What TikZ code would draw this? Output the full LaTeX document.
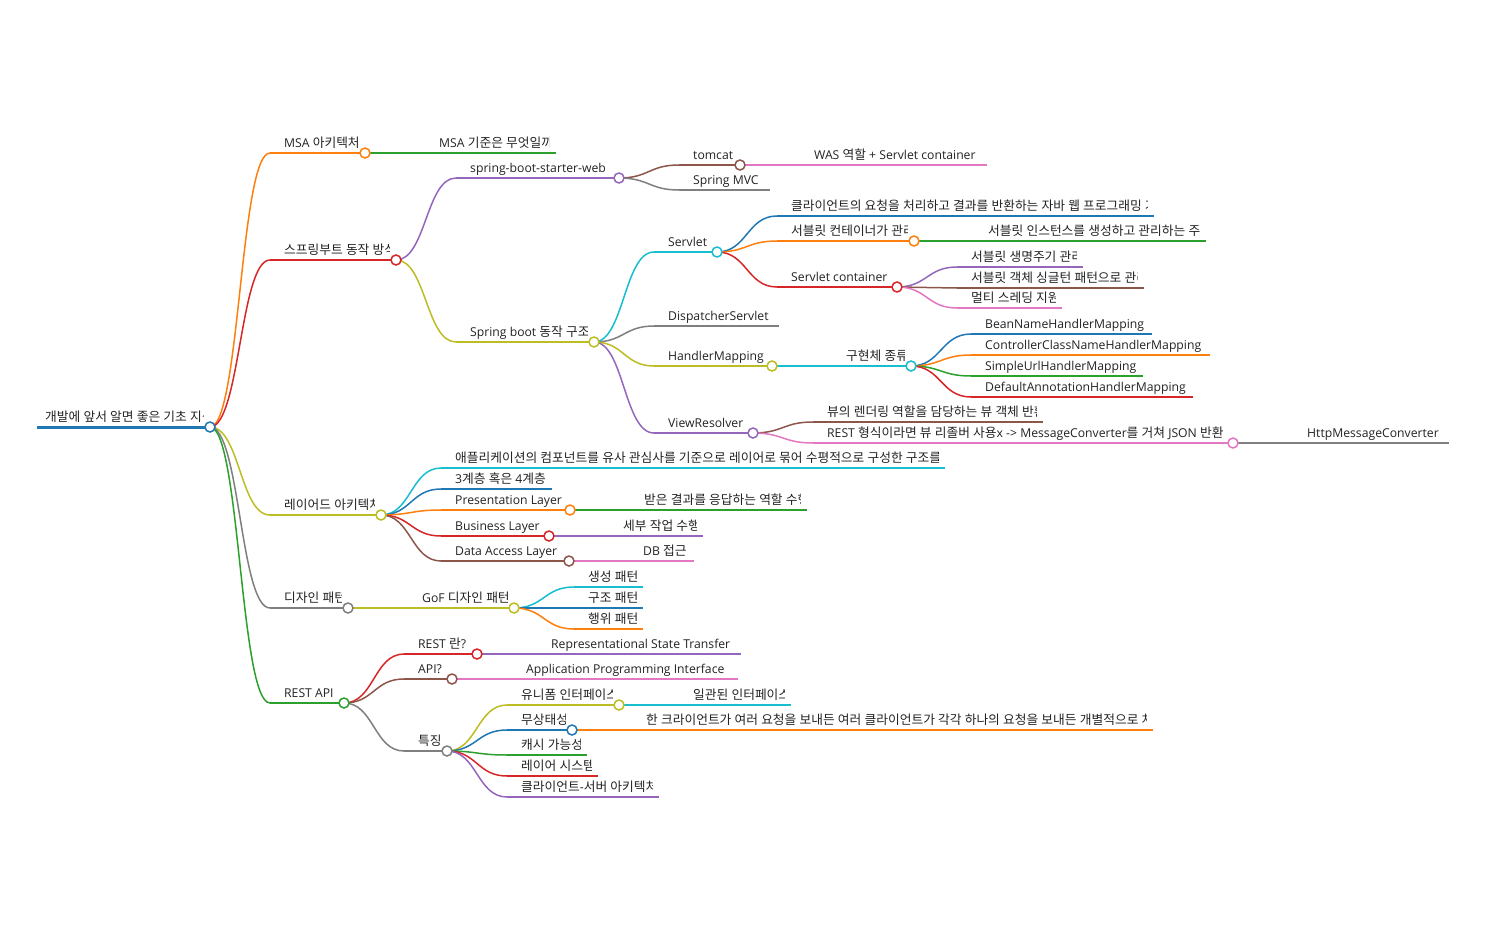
\documentclass[tikz,border=0pt]{standalone}
\usepackage{fontspec}
\setmainfont{Open Sans}
\newfontfamily\krfont{Noto Sans CJK KR}[Scale=1.045]
\newfontfamily\latfont{Open Sans}
\usetikzlibrary{calc}
% automatic switch to a Korean font for Hangul syllables
\XeTeXinterchartokenstate=1
\chardef\hgclass=10
\newcount\hgc
\hgc="AC00
\loop\XeTeXcharclass\hgc=\hgclass\advance\hgc by 1 \ifnum\hgc<"D7A4 \repeat
\XeTeXinterchartoks 0 \hgclass = {\krfont}
\XeTeXinterchartoks 4095 \hgclass = {\krfont}
\XeTeXinterchartoks \hgclass 0 = {\latfont}
\XeTeXinterchartoks \hgclass 4095 = {\latfont}
\definecolor{cBlue}{HTML}{1F77B4}
\definecolor{cOrange}{HTML}{FF7F0E}
\definecolor{cGreen}{HTML}{2CA02C}
\definecolor{cRed}{HTML}{D62728}
\definecolor{cPurple}{HTML}{9467BD}
\definecolor{cBrown}{HTML}{8C564B}
\definecolor{cPink}{HTML}{E377C2}
\definecolor{cGray}{HTML}{7F7F7F}
\definecolor{cOlive}{HTML}{BCBD22}
\definecolor{cCyan}{HTML}{17BECF}
\definecolor{txt}{HTML}{222222}
\tikzset{
  link/.style={line width=1.5pt},
  lbl/.style={anchor=base west, inner sep=0pt, text=txt, font=\fontsize{12.2}{14}\selectfont},
  mmdotstyle/.style={circle, fill=white, line width=1.5pt, minimum size=10pt, inner sep=0pt}
}
% #1 id, #2 parent id, #3 colour, #4 x0, #5 x1, #6 y, #7 text
\newcommand\mmnode[7]{%
  \coordinate (#1S) at (#4,#6);
  \coordinate (#1E) at (#5,#6);
  \draw[link,#3] (#2E) .. controls ($(#2E)+(30,0)$) and ($(#1S)+(-30,0)$) .. (#1S);
  \draw[link,#3] (#1S) -- (#1E);
  \begin{scope}
    \clip (#4,#6-30) rectangle (#5-7,#6+1);
    \node[lbl] (#1T) at (#4+14,#6-5.5) {#7};
  \end{scope}
}
\newcommand\mmdot[2]{\node[mmdotstyle, draw=#2] (#1) at (#1E) {};}
\begin{document}
\begin{tikzpicture}[x=1pt,y=-1pt]
\useasboundingbox (0,0) rectangle (1486,934);
% root
\coordinate (rS) at (37,427);
\coordinate (rE) at (210,427);
\draw[line width=3pt,cBlue] (rS) -- (rE);
\begin{scope}
  \clip (37,397) rectangle (203,428);
  \node[lbl] (rT) at (45,421.5) {개발에 앞서 알면 좋은 기초 지식};
\end{scope}
% MSA
\mmnode{a}{r}{cOrange}{270}{365}{153}{MSA 아키텍처}
\mmnode{a1}{a}{cGreen}{425}{556}{153}{MSA 기준은 무엇일까}
% spring boot
\mmnode{b}{r}{cRed}{270}{396}{260}{스프링부트 동작 방식}
\mmnode{b1}{b}{cPurple}{456}{619}{178}{spring-boot-starter-web}
\mmnode{b11}{b1}{cBrown}{679}{740}{165}{tomcat}
\mmnode{b111}{b11}{cPink}{800}{987}{165}{WAS 역할 + Servlet container}
\mmnode{b12}{b1}{cGray}{679}{770}{190}{Spring MVC}
\mmnode{b2}{b}{cOlive}{456}{594}{342}{Spring boot 동작 구조}
\mmnode{b21}{b2}{cCyan}{654}{717}{252}{Servlet}
\mmnode{b211}{b21}{cBlue}{777}{1154}{216}{클라이언트의 요청을 처리하고 결과를 반환하는 자바 웹 프로그래밍 기술}
\mmnode{b212}{b21}{cOrange}{777}{914}{241}{서블릿 컨테이너가 관리}
\mmnode{b2121}{b212}{cGreen}{974}{1206}{241}{서블릿 인스턴스를 생성하고 관리하는 주체}
\mmnode{b213}{b21}{cRed}{777}{897}{287}{Servlet container}
\mmnode{b2131}{b213}{cPurple}{957}{1083}{267}{서블릿 생명주기 관리}
\mmnode{b2132}{b213}{cBrown}{957}{1144}{288}{서블릿 객체 싱글턴 패턴으로 관리}
\mmnode{b2133}{b213}{cPink}{957}{1062}{308}{멀티 스레딩 지원}
\mmnode{b22}{b2}{cGray}{654}{779}{326}{DispatcherServlet}
\mmnode{b23}{b2}{cOlive}{654}{772}{366}{HandlerMapping}
\mmnode{b231}{b23}{cCyan}{832}{911}{366}{구현체 종류}
\mmnode{b2311}{b231}{cBlue}{971}{1152}{334}{BeanNameHandlerMapping}
\mmnode{b2312}{b231}{cOrange}{971}{1210}{355}{ControllerClassNameHandlerMapping}
\mmnode{b2313}{b231}{cGreen}{971}{1143}{376}{SimpleUrlHandlerMapping}
\mmnode{b2314}{b231}{cRed}{971}{1193}{397}{DefaultAnnotationHandlerMapping}
\mmnode{b24}{b2}{cPurple}{654}{753}{433}{ViewResolver}
\mmnode{b241}{b24}{cBrown}{813}{1043}{422}{뷰의 렌더링 역할을 담당하는 뷰 객체 반환}
\mmnode{b242}{b24}{cPink}{813}{1233}{443}{REST 형식이라면 뷰 리졸버 사용x -> MessageConverter를 거쳐 JSON 반환}
\mmnode{b2421}{b242}{cGray}{1293}{1449}{443}{HttpMessageConverter}
% layered
\mmnode{c}{r}{cOlive}{270}{381}{515}{레이어드 아키텍처}
\mmnode{c1}{c}{cCyan}{441}{945}{468}{애플리케이션의 컴포넌트를 유사 관심사를 기준으로 레이어로 묶어 수평적으로 구성한 구조를 의미}
\mmnode{c2}{c}{cBlue}{441}{552}{489}{3계층 혹은 4계층}
\mmnode{c3}{c}{cOrange}{441}{570}{510}{Presentation Layer}
\mmnode{c31}{c3}{cGreen}{630}{807}{510}{받은 결과를 응답하는 역할 수행}
\mmnode{c4}{c}{cRed}{441}{549}{536}{Business Layer}
\mmnode{c41}{c4}{cPurple}{609}{703}{536}{세부 작업 수행}
\mmnode{c5}{c}{cBrown}{441}{569}{561}{Data Access Layer}
\mmnode{c51}{c5}{cPink}{629}{694}{561}{DB 접근}
% design patterns
\mmnode{d}{r}{cGray}{270}{348}{608}{디자인 패턴}
\mmnode{d1}{d}{cOlive}{408}{514}{608}{GoF 디자인 패턴}
\mmnode{d11}{d1}{cCyan}{574}{643}{587}{생성 패턴}
\mmnode{d12}{d1}{cBlue}{574}{643}{608}{구조 패턴}
\mmnode{d13}{d1}{cOrange}{574}{643}{629}{행위 패턴}
% REST API
\mmnode{e}{r}{cGreen}{270}{344}{703}{REST API}
\mmnode{e1}{e}{cRed}{404}{477}{654}{REST 란?}
\mmnode{e11}{e1}{cPurple}{537}{741}{654}{Representational State Transfer}
\mmnode{e2}{e}{cBrown}{404}{452}{679}{API?}
\mmnode{e21}{e2}{cPink}{512}{738}{679}{Application Programming Interface}
\mmnode{e3}{e}{cGray}{404}{447}{751}{특징}
\mmnode{e31}{e3}{cOlive}{507}{619}{705}{유니폼 인터페이스}
\mmnode{e311}{e31}{cCyan}{679}{791}{705}{일관된 인터페이스}
\mmnode{e32}{e3}{cBlue}{507}{572}{730}{무상태성}
\mmnode{e321}{e32}{cOrange}{632}{1153}{730}{한 크라이언트가 여러 요청을 보내든 여러 클라이언트가 각각 하나의 요청을 보내든 개별적으로 처리}
\mmnode{e33}{e3}{cGreen}{507}{587}{755}{캐시 가능성}
\mmnode{e34}{e3}{cRed}{507}{598}{776}{레이어 시스템}
\mmnode{e35}{e3}{cPurple}{507}{659}{797}{클라이언트-서버 아키텍처}
% circles on top
\mmdot{r}{cBlue}
\mmdot{a}{cOrange}
\mmdot{b}{cRed}
\mmdot{b1}{cPurple}
\mmdot{b11}{cBrown}
\mmdot{b2}{cOlive}
\mmdot{b21}{cCyan}
\mmdot{b212}{cOrange}
\mmdot{b213}{cRed}
\mmdot{b23}{cOlive}
\mmdot{b231}{cCyan}
\mmdot{b24}{cPurple}
\mmdot{b242}{cPink}
\mmdot{c}{cOlive}
\mmdot{c3}{cOrange}
\mmdot{c4}{cRed}
\mmdot{c5}{cBrown}
\mmdot{d}{cGray}
\mmdot{d1}{cOlive}
\mmdot{e}{cGreen}
\mmdot{e1}{cRed}
\mmdot{e2}{cBrown}
\mmdot{e3}{cGray}
\mmdot{e31}{cOlive}
\mmdot{e32}{cBlue}
\end{tikzpicture}
\end{document}
